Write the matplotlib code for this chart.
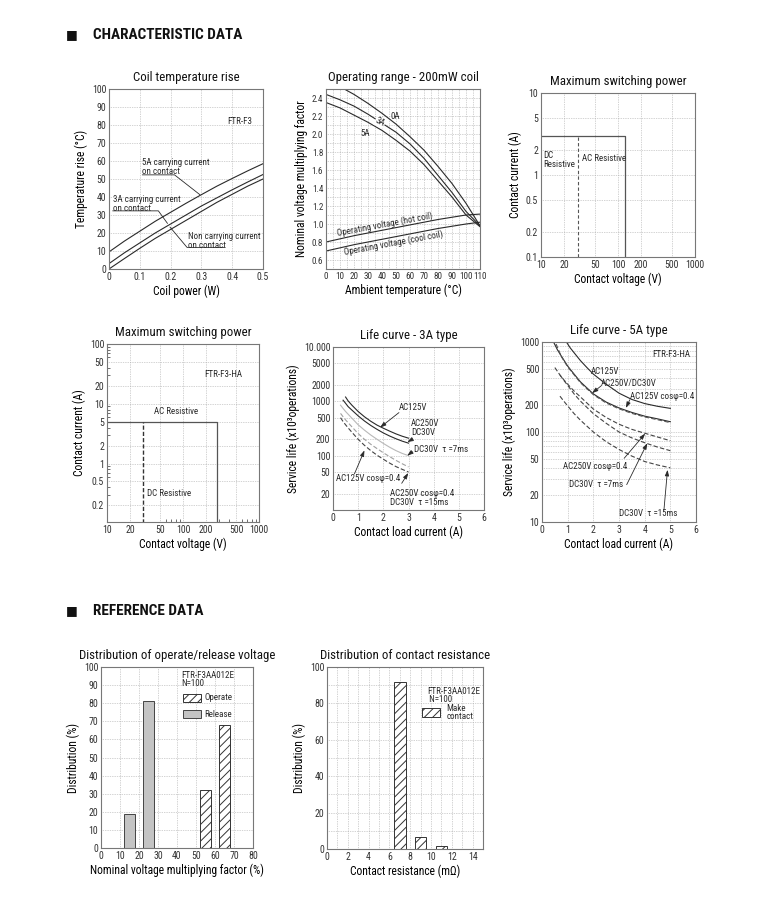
import numpy as np
import matplotlib
matplotlib.use("Agg")
import matplotlib.pyplot as plt
from matplotlib import font_manager
from matplotlib.patches import Rectangle
from matplotlib.ticker import FixedLocator, NullFormatter

# ---------------- DATA ----------------
# Coil temperature rise
coil_power = [0.0, 0.05, 0.1, 0.15, 0.2, 0.25, 0.3, 0.35, 0.4, 0.45, 0.5]
rise_5a = [9.5, 15.5, 21, 26.5, 31.5, 36.5, 41.3, 46, 50.3, 54.5, 58.5]
rise_3a = [3, 9, 14.5, 20, 25, 30, 35, 39.5, 44, 48.3, 52.5]
rise_0a = [0, 5.8, 11.5, 17, 22, 27, 32, 37, 41.5, 46, 50]

# Operating range - 200mW coil
temp_0a = [13, 20, 30, 40, 50, 60, 70, 80, 90, 100, 110]
op_0a = [2.5, 2.44, 2.34, 2.23, 2.11, 1.97, 1.82, 1.64, 1.45, 1.23, 0.98]
temp_ab = [0, 10, 20, 30, 40, 50, 60, 70, 80, 90, 100, 110]
op_3a = [2.44, 2.38, 2.31, 2.22, 2.12, 2.02, 1.89, 1.73, 1.54, 1.35, 1.14, 0.98]
op_5a = [2.35, 2.29, 2.21, 2.13, 2.04, 1.93, 1.81, 1.66, 1.48, 1.3, 1.1, 0.97]
temp_coil = [0, 20, 40, 60, 80, 100, 110]
hot_coil = [0.8, 0.87, 0.93, 0.99, 1.05, 1.1, 1.11]
cool_coil = [0.7, 0.77, 0.83, 0.89, 0.95, 1.0, 1.02]

# Maximum switching power (FTR-F3)
msp1_vmin, msp1_dc_v, msp1_ac_v, msp1_i, msp1_imin = 10, 30, 125, 3, 0.1
# Maximum switching power (FTR-F3-HA)
msp2_vmin, msp2_dc_v, msp2_ac_v, msp2_i, msp2_imin = 10, 30, 280, 5, 0.1

# Life curve - 3A type
l3_x_ac125 = [0.5, 0.6, 0.75, 1, 1.25, 1.5, 1.75, 2, 2.25, 2.5, 2.75, 3]
l3_ac125 = [1200, 1020, 850, 650, 520, 430, 365, 320, 283, 252, 228, 210]
l3_x_ac250 = [0.4, 0.5, 0.6, 0.75, 1, 1.25, 1.5, 1.75, 2, 2.25, 2.5, 2.75, 3]
l3_ac250 = [1050, 920, 800, 690, 540, 435, 360, 305, 262, 230, 205, 185, 170]
l3_x_low = [0.3, 0.4, 0.5, 0.6, 0.75, 1, 1.25, 1.5, 1.75, 2, 2.25, 2.5, 2.75, 3]
l3_dc7 = [850, 740, 650, 580, 490, 370, 295, 240, 200, 168, 143, 124, 110, 100]
l3_ac125cos = [600, 520, 455, 405, 340, 255, 200, 162, 135, 113, 96, 82, 71, 62]
l3_ac250cos = [500, 425, 370, 325, 270, 200, 155, 124, 102, 86, 73, 63, 56, 50]

# Life curve - 5A type
l5_x_ac125 = [0.95, 1.1, 1.25, 1.5, 1.75, 2, 2.5, 3, 3.5, 4, 4.5, 5]
l5_ac125 = [1000, 860, 760, 620, 520, 440, 340, 270, 230, 207, 193, 183]
l5_x_ac250 = [0.45, 0.6, 0.75, 1, 1.25, 1.5, 2, 2.5, 3, 3.5, 4, 4.5, 5]
l5_ac250 = [1000, 820, 700, 540, 440, 360, 265, 215, 185, 165, 150, 140, 130]
l5_x_ac125cos = [0.55, 0.75, 1, 1.25, 1.5, 2, 2.5, 3, 3.5, 4, 4.5, 5]
l5_ac125cos = [950, 690, 530, 432, 352, 260, 210, 181, 161, 147, 137, 127]
l5_x_ac250cos = [0.5, 0.75, 1, 1.25, 1.5, 2, 2.5, 3, 3.5, 4, 4.5, 5]
l5_ac250cos = [520, 410, 340, 285, 245, 180, 145, 122, 107, 97, 88, 80]
l5_x_dc = [0.7, 0.85, 1, 1.25, 1.5, 2, 2.5, 3, 3.5, 4, 4.5, 5]
l5_dc7 = [430, 375, 330, 265, 220, 160, 125, 100, 86, 76, 68, 62]
l5_dc15 = [250, 220, 195, 160, 135, 100, 78, 64, 54, 47, 43, 40]

# Distribution of operate/release voltage
release_x = [15, 25]
release_pct = [19, 81]
operate_x = [55, 65]
operate_pct = [32, 68]

# Distribution of contact resistance
res_x = [7, 9, 11]
res_pct = [91.5, 6.5, 1.5]

# ---------------- STYLE ----------------
names = {f.name for f in font_manager.fontManager.ttflist}
fam = "DejaVu Sans"
for cand in ["Liberation Sans Narrow", "Roboto Condensed", "Open Sans Condensed", "Roboto", "Lato"]:
    if cand in names:
        fam = cand
        break
plt.rcParams["font.family"] = [fam, "DejaVu Sans"]
plt.rcParams["hatch.linewidth"] = 0.7

W, H = 757, 913
fig = plt.figure(figsize=(W / 100, H / 100), dpi=100)

DARK = "#2a2a2a"
GRID = dict(ls=(0, (1, 1.5)), color="#a8a8a8", lw=0.5)
TICK = 7.1
LAB = 8.3
TIT = 9.3
ANN = 6.5
HATCH = "////"


def add_ax(l, t, r, b):
    return fig.add_axes([l / W, 1 - b / H, (r - l) / W, (b - t) / H])


def style(ax, title):
    for s in ax.spines.values():
        s.set_color("#777777")
        s.set_linewidth(0.8)
    ax.tick_params(which="both", length=0, labelsize=TICK, colors="#333333", pad=2)
    ax.grid(True, which="major", **GRID)
    ax.set_axisbelow(True)
    ax.set_title(title, fontsize=TIT, pad=6, color="#111111")


def leader(ax, A, B, aA, aB):
    ax.annotate("", xy=B, xytext=A,
                arrowprops=dict(arrowstyle="-", color=DARK, lw=0.6, shrinkA=0, shrinkB=0,
                                connectionstyle=f"angle,angleA={aA},angleB={aB},rad=0"))


def arrow(ax, A, B):
    ax.annotate("", xy=B, xytext=A,
                arrowprops=dict(arrowstyle="-|>,head_length=0.35,head_width=0.12", color=DARK,
                                lw=0.6, shrinkA=0, shrinkB=0))


def header(y, text):
    fig.text(66 / W, 1 - y / H, "\u25A0", fontsize=9, va="center", ha="left", color="#111111",
             family="DejaVu Sans")
    fig.text(93 / W, 1 - y / H, text, fontsize=11, va="center", ha="left", color="#111111",
             weight="semibold")


header(35, "CHARACTERISTIC DATA")
header(611, "REFERENCE DATA")

# ---------- Panel 1: Coil temperature rise ----------
ax = add_ax(109, 89, 263, 269)
style(ax, "Coil temperature rise")
ax.plot(coil_power, rise_5a, color=DARK, lw=0.8)
ax.plot(coil_power, rise_3a, color=DARK, lw=0.8)
ax.plot(coil_power, rise_0a, color=DARK, lw=0.8)
ax.set_xlim(0, 0.5)
ax.set_ylim(0, 100)
ax.set_xticks([0, 0.1, 0.2, 0.3, 0.4, 0.5])
ax.set_xticklabels(["0", "0.1", "0.2", "0.3", "0.4", "0.5"])
ax.set_yticks(range(0, 101, 10))
ax.set_xlabel("Coil power (W)", fontsize=LAB, labelpad=2)
ax.set_ylabel("Temperature rise (\u00B0C)", fontsize=LAB, labelpad=3)
ax.text(0.385, 82, "FTR-F3", fontsize=ANN, va="center", color=DARK)
ax.text(0.108, 61.5, "5A carrying current\non contact", fontsize=ANN, va="top", ha="left",
        color=DARK, linespacing=0.95)
leader(ax, (0.108, 52.3), (0.295, 41.3), 0, -38)
ax.text(0.013, 41, "3A carrying current\non contact", fontsize=ANN, va="top", ha="left",
        color=DARK, linespacing=0.95)
leader(ax, (0.012, 32.3), (0.19, 25.3), 0, -54)
ax.text(0.255, 20.5, "Non carrying current\non contact", fontsize=ANN, va="top", ha="left",
        color=DARK, linespacing=0.95)
leader(ax, (0.375, 12.0), (0.198, 23.3), 0, 130)

# ---------- Panel 2: Operating range ----------
ax = add_ax(326, 89, 480, 269)
style(ax, "Operating range - 200mW coil")
ax.tick_params(labelsize=6.6)
ax.plot(temp_0a, op_0a, color=DARK, lw=0.8)
ax.plot(temp_ab, op_3a, color=DARK, lw=0.8)
ax.plot(temp_ab, op_5a, color=DARK, lw=0.8)
ax.plot(temp_coil, hot_coil, color=DARK, lw=0.8)
ax.plot(temp_coil, cool_coil, color=DARK, lw=0.8)
ax.set_xlim(0, 110)
ax.set_ylim(0.5, 2.5)
ax.set_xticks(range(0, 111, 10))
ax.set_yticks([0.6, 0.8, 1.0, 1.2, 1.4, 1.6, 1.8, 2.0, 2.2, 2.4])
ax.set_yticklabels(["0.6", "0.8", "1.0", "1.2", "1.4", "1.6", "1.8", "2.0", "2.2", "2.4"])
ax.xaxis.set_minor_locator(FixedLocator(np.arange(5, 110, 10)))
ax.yaxis.set_minor_locator(FixedLocator(np.arange(0.5, 2.5, 0.2)))
ax.grid(True, which="minor", **GRID)
ax.set_xlabel("Ambient temperature (\u00B0C)", fontsize=LAB, labelpad=2)
ax.set_ylabel("Nominal voltage multiplying factor", fontsize=LAB, labelpad=3)
ax.text(38.5, 2.13, "3A", fontsize=ANN, ha="center", va="center", rotation=-28, color=DARK,
        bbox=dict(facecolor="white", edgecolor="none", pad=0.3))
ax.text(49.5, 2.19, "0A", fontsize=ANN, ha="center", va="center", color=DARK)
ax.text(28, 2.0, "5A", fontsize=ANN, ha="center", va="center", color=DARK)
ax.text(42, 0.99, "Operating voltage (hot coil)", fontsize=ANN, ha="center", va="center",
        rotation=10.5, color=DARK)
ax.text(48, 0.79, "Operating voltage (cool coil)", fontsize=ANN, ha="center", va="center",
        rotation=10.5, color=DARK)

# ---------- Panel 3: Maximum switching power ----------
ax = add_ax(541, 93, 695, 257)
style(ax, "Maximum switching power")
ax.set_xscale("log")
ax.set_yscale("log")
ax.plot([msp1_vmin, msp1_ac_v, msp1_ac_v], [msp1_i, msp1_i, msp1_imin], color="#555555", lw=0.9)
ax.plot([msp1_dc_v, msp1_dc_v], [msp1_imin, msp1_i], color="#555555", lw=0.8, ls=(0, (3, 2)))
ax.set_xlim(10, 1000)
ax.set_ylim(0.1, 10)
ax.xaxis.set_major_locator(FixedLocator([10, 20, 50, 100, 200, 500, 1000]))
ax.set_xticklabels(["10", "20", "50", "100", "200", "500", "1000"])
ax.yaxis.set_major_locator(FixedLocator([0.1, 0.2, 0.5, 1, 2, 5, 10]))
ax.set_yticklabels(["0.1", "0.2", "0.5", "1", "2", "5", "10"])
ax.xaxis.set_minor_formatter(NullFormatter())
ax.yaxis.set_minor_formatter(NullFormatter())
ax.xaxis.set_minor_locator(FixedLocator([]))
ax.yaxis.set_minor_locator(FixedLocator([]))
ax.set_xlabel("Contact voltage (V)", fontsize=LAB, labelpad=2)
ax.set_ylabel("Contact current (A)", fontsize=LAB, labelpad=3)
ax.text(10.8, 1.95, "DC\nResistive", fontsize=ANN, ha="left", va="top", color=DARK,
        linespacing=0.95)
ax.text(34, 1.57, "AC Resistive", fontsize=ANN, ha="left", va="center", color=DARK)

# ---------- Panel 4: Maximum switching power (HA) ----------
ax = add_ax(107, 344, 259, 522)
style(ax, "Maximum switching power")
ax.set_xscale("log")
ax.set_yscale("log")
ax.plot([msp2_vmin, msp2_ac_v, msp2_ac_v], [msp2_i, msp2_i, msp2_imin], color="#555555", lw=0.9)
ax.plot([msp2_dc_v, msp2_dc_v], [msp2_imin, msp2_i], color="#333333", lw=1.0, ls=(0, (3, 1.5)))
ax.set_xlim(10, 1000)
ax.set_ylim(0.105, 100)
ax.xaxis.set_major_locator(FixedLocator([10, 20, 50, 100, 200, 500, 1000]))
ax.set_xticklabels(["10", "20", "50", "100", "200", "500", "1000"])
ax.yaxis.set_major_locator(FixedLocator([0.2, 0.5, 1, 2, 5, 10, 20, 50, 100]))
ax.set_yticklabels(["0.2", "0.5", "1", "2", "5", "10", "20", "50", "100"])
ax.xaxis.set_minor_locator(FixedLocator([60, 70, 80, 90, 300, 400, 600, 700, 800, 900]))
ax.yaxis.set_minor_locator(FixedLocator([0.3, 0.4, 0.6, 0.7, 0.8, 0.9, 3, 4, 6, 7, 8, 9,
                                         30, 40, 60, 70, 80, 90]))
ax.xaxis.set_minor_formatter(NullFormatter())
ax.yaxis.set_minor_formatter(NullFormatter())
ax.tick_params(which="minor", length=2, direction="in", color="#555555", width=0.6)
ax.set_xlabel("Contact voltage (V)", fontsize=LAB, labelpad=2)
ax.set_ylabel("Contact current (A)", fontsize=LAB, labelpad=3)
ax.text(340, 31, "FTR-F3-HA", fontsize=ANN, ha="center", va="center", color=DARK)
ax.text(80, 7.4, "AC Resistive", fontsize=ANN, ha="center", va="center", color=DARK)
ax.text(66, 0.315, "DC Resistive", fontsize=ANN, ha="center", va="center", color=DARK)

# ---------- Panel 5: Life curve - 3A ----------
ax = add_ax(333, 347, 484, 510)
style(ax, "Life curve - 3A type")
ax.set_yscale("log")
ax.plot(l3_x_ac125, l3_ac125, color=DARK, lw=0.8)
ax.plot(l3_x_ac250, l3_ac250, color=DARK, lw=0.8)
ax.plot(l3_x_low, l3_dc7, color="#b8b8b8", lw=0.8)
ax.plot(l3_x_low, l3_ac125cos, color="#a0a0a0", lw=0.8, ls=(0, (4, 2)))
ax.plot(l3_x_low, l3_ac250cos, color="#444444", lw=0.8, ls=(0, (4, 2)))
ax.set_xlim(0, 6)
ax.set_ylim(10, 10000)
ax.set_xticks(range(0, 7))
ax.yaxis.set_major_locator(FixedLocator([20, 50, 100, 200, 500, 1000, 2000, 5000, 10000]))
ax.set_yticklabels(["20", "50", "100", "200", "500", "1000", "2000", "5000", "10.000"])
ax.yaxis.set_minor_locator(FixedLocator([]))
ax.yaxis.set_minor_formatter(NullFormatter())
ax.set_xlabel("Contact load current (A)", fontsize=LAB, labelpad=2)
ax.set_ylabel("Service life (x10\u00B3operations)", fontsize=LAB, labelpad=3)
ax.text(2.62, 780, "AC125V", fontsize=ANN, ha="left", va="center", color=DARK)
arrow(ax, (2.62, 620), (1.87, 330))
ax.text(3.1, 320, "AC250V\nDC30V", fontsize=ANN, ha="left", va="center", color=DARK,
        linespacing=0.95)
arrow(ax, (3.15, 200), (2.95, 178))
ax.text(3.2, 128, "DC30V  \u03C4 =7ms", fontsize=ANN, ha="left", va="center", color=DARK)
arrow(ax, (3.15, 118), (2.95, 100))
ax.text(0.12, 38.5, "AC125V cos\u03C6=0.4", fontsize=ANN, ha="left", va="center", color=DARK)
arrow(ax, (0.85, 46), (1.25, 125))
ax.text(2.25, 16.5, "AC250V cos\u03C6=0.4\nDC30V  \u03C4 =15ms", fontsize=ANN, ha="left",
        va="center", color=DARK, linespacing=0.95)
arrow(ax, (2.73, 31), (2.99, 48))

# ---------- Panel 6: Life curve - 5A ----------
ax = add_ax(542, 342, 696, 522)
style(ax, "Life curve - 5A type")
ax.set_yscale("log")
ax.plot(l5_x_ac125, l5_ac125, color=DARK, lw=0.8)
ax.plot(l5_x_ac250, l5_ac250, color=DARK, lw=0.8)
ax.plot(l5_x_ac125cos, l5_ac125cos, color="#555555", lw=0.8, ls=(0, (4, 2)))
ax.plot(l5_x_ac250cos, l5_ac250cos, color="#444444", lw=0.8, ls=(0, (4, 2)))
ax.plot(l5_x_dc, l5_dc7, color="#444444", lw=0.8, ls=(0, (4, 2)))
ax.plot(l5_x_dc, l5_dc15, color="#444444", lw=0.8, ls=(0, (4, 2)))
ax.set_xlim(0, 6)
ax.set_ylim(10, 1000)
ax.set_xticks(range(0, 7))
ax.yaxis.set_major_locator(FixedLocator([10, 20, 50, 100, 200, 500, 1000]))
ax.set_yticklabels(["10", "20", "50", "100", "200", "500", "1000"])
ax.yaxis.set_minor_locator(FixedLocator([30, 40, 60, 70, 80, 90, 300, 400, 600, 700, 800, 900]))
ax.yaxis.set_minor_formatter(NullFormatter())
ax.grid(True, which="minor", axis="y", **GRID)
ax.set_xlabel("Contact load current (A)", fontsize=LAB, labelpad=2)
ax.set_ylabel("Service life (x10\u00B3operations)", fontsize=LAB, labelpad=3)
ax.text(5.05, 720, "FTR-F3-HA", fontsize=ANN, ha="center", va="center", color=DARK)
ax.text(2.45, 472, "AC125V", fontsize=ANN, ha="center", va="center", color=DARK)
ax.text(3.36, 350, "AC250V/DC30V", fontsize=ANN, ha="center", va="center", color=DARK)
arrow(ax, (2.3, 325), (1.95, 270))
ax.text(4.68, 249, "AC125V cos\u03C6=0.4", fontsize=ANN, ha="center", va="center", color=DARK)
arrow(ax, (3.42, 228), (3.27, 185))
ax.text(2.06, 41.5, "AC250V cos\u03C6=0.4", fontsize=ANN, ha="center", va="center", color=DARK)
arrow(ax, (3.2, 51), (4.02, 96))
ax.text(2.12, 26, "DC30V  \u03C4 =7ms", fontsize=ANN, ha="center", va="center", color=DARK)
arrow(ax, (3.3, 26), (4.1, 75))
ax.text(4.15, 12.3, "DC30V  \u03C4 =15ms", fontsize=ANN, ha="center", va="center", color=DARK)
arrow(ax, (4.75, 13.5), (4.89, 38))

# ---------- Panel 7: Distribution of operate/release voltage ----------
ax = add_ax(101, 667, 253, 848)
style(ax, "Distribution of operate/release voltage")
ax.bar(release_x, release_pct, width=5.5, color="#c4c4c4", edgecolor="#444444", lw=0.7)
ax.bar(operate_x, operate_pct, width=5.5, color="white", edgecolor="#333333", lw=0.7,
       hatch=HATCH)
ax.set_xlim(0, 80)
ax.set_ylim(0, 100)
ax.set_xticks(range(0, 81, 10))
ax.set_yticks(range(0, 101, 10))
ax.set_xlabel("Nominal voltage multiplying factor (%)", fontsize=LAB, labelpad=2)
ax.set_ylabel("Distribution (%)", fontsize=LAB, labelpad=3)
ax.text(42.5, 98, "FTR-F3AA012E\nN=100", fontsize=ANN, ha="left", va="top", color=DARK,
        linespacing=0.9)
ax.add_patch(Rectangle((0.54, 0.808), 0.115, 0.045, transform=ax.transAxes, facecolor="white",
                       edgecolor="#333333", lw=0.7, hatch=HATCH))
ax.text(54.5, 83, "Operate", fontsize=ANN, ha="left", va="center", color=DARK)
ax.add_patch(Rectangle((0.54, 0.717), 0.115, 0.045, transform=ax.transAxes, facecolor="#c4c4c4",
                       edgecolor="#444444", lw=0.7))
ax.text(54.5, 74, "Release", fontsize=ANN, ha="left", va="center", color=DARK)

# ---------- Panel 8: Distribution of contact resistance ----------
ax = add_ax(327, 667, 483, 849)
style(ax, "Distribution of contact resistance")
ax.bar(res_x, res_pct, width=1.1, color="white", edgecolor="#333333", lw=0.7, hatch=HATCH)
ax.set_xlim(0, 15)
ax.set_ylim(0, 100)
ax.set_xticks(range(0, 15, 2))
ax.set_yticks(range(0, 101, 20))
ax.xaxis.set_minor_locator(FixedLocator(range(1, 15, 2)))
ax.yaxis.set_minor_locator(FixedLocator(range(10, 100, 20)))
ax.grid(True, which="minor", **GRID)
ax.set_xlabel("Contact resistance (m\u03A9)", fontsize=LAB, labelpad=2)
ax.set_ylabel("Distribution (%)", fontsize=LAB, labelpad=3)
ax.text(9.6, 89, "FTR-F3AA012E\n N=100", fontsize=ANN, ha="left", va="top", color=DARK,
        linespacing=0.9)
ax.add_patch(Rectangle((0.607, 0.727), 0.12, 0.046, transform=ax.transAxes, facecolor="white",
                       edgecolor="#333333", lw=0.7, hatch=HATCH))
ax.text(11.5, 75, "Make\ncontact", fontsize=ANN, ha="left", va="center", color=DARK,
        linespacing=0.9)

fig.savefig("out.png", dpi=100)
